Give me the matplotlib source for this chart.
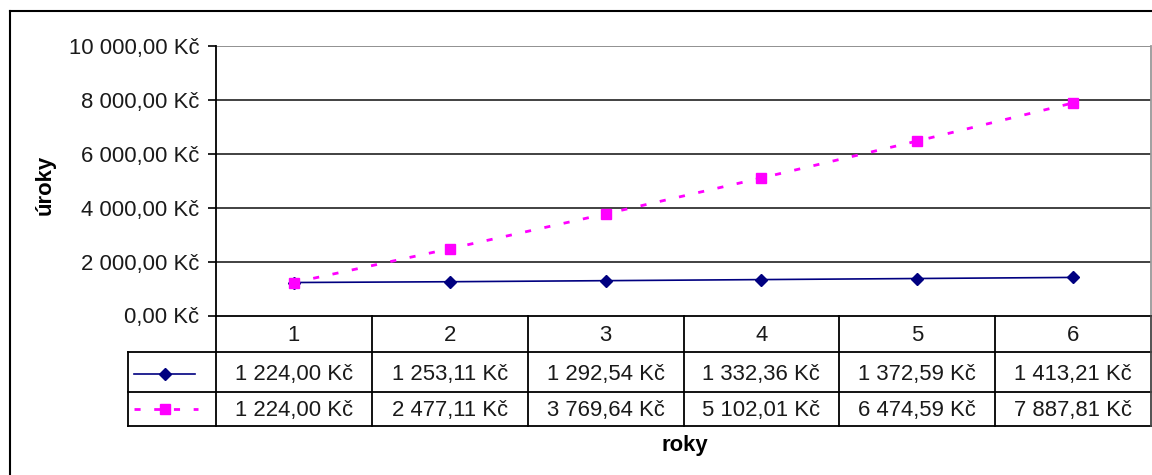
import matplotlib
matplotlib.use("Agg")
import matplotlib.pyplot as plt
from matplotlib.lines import Line2D

plt.rcParams['font.family'] = ['Liberation Sans', 'DejaVu Sans']

years = [1, 2, 3, 4, 5, 6]
simple_interest = [1224.00, 1253.11, 1292.54, 1332.36, 1372.59, 1413.21]
compound_interest = [1224.00, 2477.11, 3769.64, 5102.01, 6474.59, 7887.81]
y_ticks = [0, 2000, 4000, 6000, 8000, 10000]
x_label = "roky"
y_label = "úroky"


def fmt_kc(v):
    s = f"{v:,.2f}"
    s = s.replace(",", " ").replace(".", ",")
    return s + " Kč"


W, H = 1152, 475
fig = plt.figure(figsize=(W / 100, H / 100), dpi=100)
fig.patch.set_facecolor('white')

def fx(px):
    return px / W

def fy(py):
    return 1 - py / H

fs = 15.9
txt_color = '#1a1a1a'

# plot area pixel bounds
L, R, T, B = 216, 1151, 46, 315.5
ax = fig.add_axes([fx(L), fy(B), fx(R) - fx(L), fy(T) - fy(B)])
n = len(years)
ax.set_xlim(0.5, n + 0.5)
ax.set_ylim(0, 10000)
ax.set_yticks(y_ticks)
ax.set_yticklabels([fmt_kc(v) for v in y_ticks], fontsize=fs, color=txt_color)
ax.set_xticks([])
ax.tick_params(axis='y', direction='out', length=6, width=1.2, pad=6, color='black')
for y in y_ticks[1:]:
    ax.axhline(y, color='#333333' if y < 10000 else '#888888', lw=1.3, zorder=1)
ax.spines['left'].set_linewidth(1.3)
ax.spines['left'].set_color('black')
ax.spines['bottom'].set_linewidth(1.3)
ax.spines['bottom'].set_color('black')
ax.spines['top'].set_visible(False)
ax.spines['right'].set_color('#999999')
ax.spines['right'].set_linewidth(1.3)

ax.plot(years, simple_interest, color='#000080', lw=1.2, marker='D', markersize=6,
        markerfacecolor='#000080', markeredgecolor='#000080', zorder=3)
ax.plot(years, compound_interest, color='#FF00FF', lw=2.0, dashes=(2.2, 4.9), marker='s',
        markersize=6.8, markerfacecolor='#FF00FF', markeredgecolor='#FF00FF', zorder=4)

fig.text(fx(45), fy(185), y_label, rotation=90, ha='center', va='center',
         fontsize=fs, fontweight='bold')

# data table (figure overlay)
lc = 'black'
lw = 1.3
tab_top, row1, row2, tab_bot = B, 352, 392, 425.5
leg_left = 127.5
col_w = (R - L) / n

def hline(y, x0, x1, color=lc):
    fig.add_artist(Line2D([fx(x0), fx(x1)], [fy(y), fy(y)], color=color, lw=lw))

def vline(x, y0, y1, color=lc):
    fig.add_artist(Line2D([fx(x), fx(x)], [fy(y0), fy(y1)], color=color, lw=lw))

hline(row1, leg_left, R)
hline(row2, leg_left, R)
hline(tab_bot, leg_left, R)
vline(leg_left, row1, tab_bot)
vline(L, tab_top, tab_bot)
for i in range(1, n):
    vline(L + i * col_w, tab_top, tab_bot)
vline(R, tab_top, tab_bot, color='#444444')

for i, yr in enumerate(years):
    cx = L + (i + 0.5) * col_w
    fig.text(fx(cx), fy((tab_top + row1) / 2 + 1.5), str(yr), ha='center', va='center', fontsize=fs, color=txt_color)
    fig.text(fx(cx), fy((row1 + row2) / 2 + 2.5), fmt_kc(simple_interest[i]), ha='center', va='center', fontsize=fs, color=txt_color)
    fig.text(fx(cx), fy((row2 + tab_bot) / 2 + 1.5), fmt_kc(compound_interest[i]), ha='center', va='center', fontsize=fs, color=txt_color)

# legend keys
ly1 = (row1 + row2) / 2 + 2
fig.add_artist(Line2D([fx(134), fx(195)], [fy(ly1), fy(ly1)], color='#000080', lw=1.2))
fig.add_artist(Line2D([fx(165)], [fy(ly1)], color='#000080', marker='D', markersize=6, lw=0))
ly2 = (row2 + tab_bot) / 2
fig.add_artist(Line2D([fx(134), fx(198)], [fy(ly2), fy(ly2)], color='#FF00FF', lw=2.0, dashes=(2.2, 4.9)))
fig.add_artist(Line2D([fx(165)], [fy(ly2)], color='#FF00FF', marker='s', markersize=6.8, lw=0))

fig.text(fx(685), fy(445), x_label, ha='center', va='center', fontsize=fs, fontweight='bold')

# outer chart border
fig.add_artist(Line2D([fx(10), fx(10)], [fy(11), 0], color='black', lw=1.5))
fig.add_artist(Line2D([fx(10), 1], [fy(11), fy(11)], color='black', lw=1.5))

fig.savefig('out.png', dpi=100, facecolor='white')
